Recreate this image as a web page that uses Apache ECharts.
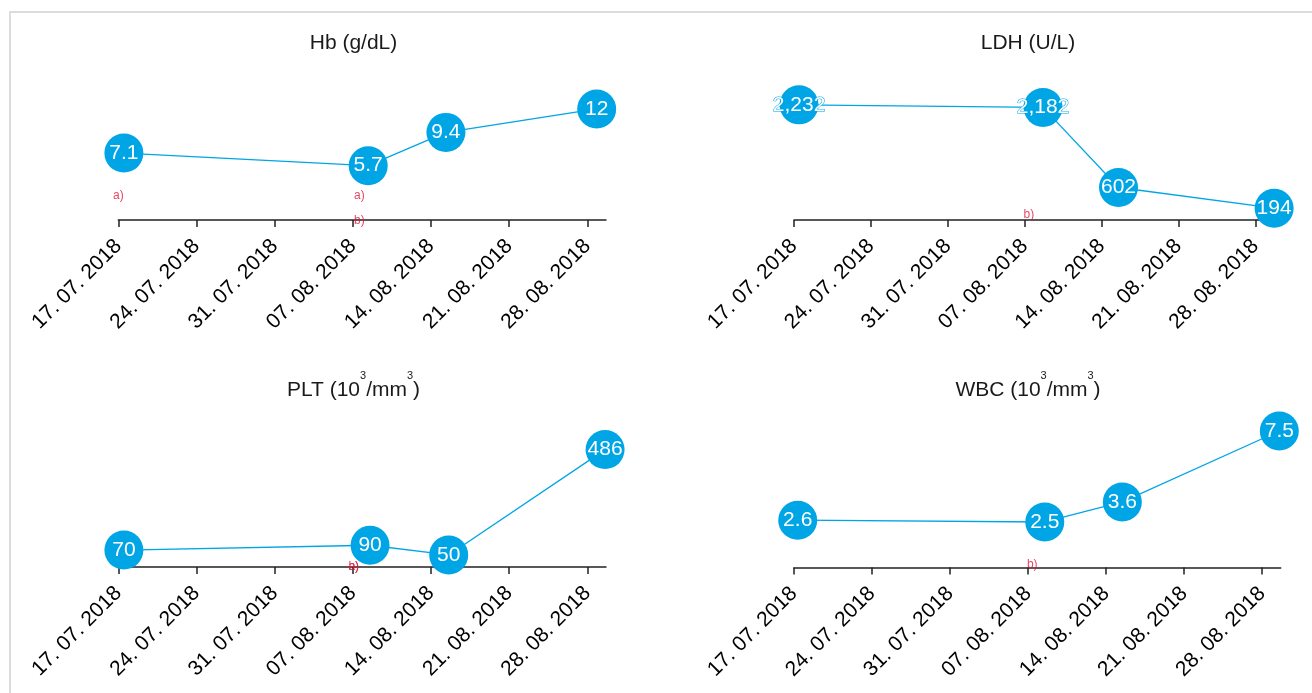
<!DOCTYPE html>
<html><head><meta charset="utf-8">
<script src="https://cdn.jsdelivr.net/npm/echarts@6/dist/echarts.min.js"></script>
<style>html,body{margin:0;padding:0;background:#fff}#c{width:1312px;height:693px}</style>
</head><body><div id="c"></div>
<script>
// ---- data ----
const tickLabels = ['17. 07. 2018','24. 07. 2018','31. 07. 2018','07. 08. 2018','14. 08. 2018','21. 08. 2018','28. 08. 2018'];
const axisStart = '2018-07-17 00:00';

const hbDates  = ['2018-07-17 12:00','2018-08-08 09:00','2018-08-15 08:00','2018-08-28 20:00'];
const hbValues = [7.1, 5.7, 9.4, 12];
const ldhDates  = ['2018-07-17 11:00','2018-08-08 16:00','2018-08-15 13:00','2018-08-29 17:00'];
const ldhValues = [2232, 2182, 602, 194];
const pltDates  = ['2018-07-17 12:00','2018-08-08 13:00','2018-08-15 14:00','2018-08-29 14:00'];
const pltValues = [70, 90, 50, 486];
const wbcDates  = ['2018-07-17 08:00','2018-08-08 12:00','2018-08-15 11:00','2018-08-29 13:00'];
const wbcValues = [2.6, 2.5, 3.6, 7.5];

// annotations: [date, y value, text]
const hbNotes  = [['2018-07-17 00:00', 2.4, 'a)'], ['2018-08-07 14:00', 2.4, 'a)'], ['2018-08-07 14:00', -0.45, 'b)']];
const ldhNotes = [['2018-08-07 09:00', 70, 'b)']];
const pltNotes = [['2018-08-07 02:00', 0, 'a)'], ['2018-08-07 02:00', 0, 'b)']];
const wbcNotes = [['2018-08-07 09:00', 0.18, 'b)']];

// ---- helpers ----
function parseDate(s){
  const [d,t] = s.split(' ');
  const [Y,M,D] = d.split('-').map(Number);
  const [h,m] = t.split(':').map(Number);
  return Date.UTC(Y, M-1, D, h, m);
}
const t0 = parseDate(axisStart);
function toDay(s){ return (parseDate(s) - t0) / 86400000; }
const tickDays = tickLabels.map((_, i) => i * 7);

const BLUE = '#00a5e6';
const FONT = '"Liberation Sans", Arial, sans-serif';

const panels = [
  {title:'Hb (g/dL)', dates:hbDates, values:hbValues, notes:hbNotes,
   grid:{left:118.3, top:70, width:487.7, height:147}, xOffset:3, xMax:'2018-08-29 16:00', yMax:16.33, tx:353.5, ty:33},
  {title:'LDH (U/L)', dates:ldhDates, values:ldhValues, notes:ldhNotes,
   grid:{left:794, top:70, width:487, height:148}, xOffset:2, xMax:'2018-08-30 08:00', yMax:2920, tx:1028, ty:33},
  {title:'PLT (10{s|3}/mm{s|3})', dates:pltDates, values:pltValues, notes:pltNotes,
   grid:{left:118.3, top:417, width:487.7, height:150}, xOffset:0, xMax:'2018-08-29 16:00', yMax:621, tx:353.5, ty:370},
  {title:'WBC (10{s|3}/mm{s|3})', dates:wbcDates, values:wbcValues, notes:wbcNotes,
   grid:{left:794, top:417.5, width:486.7, height:150}, xOffset:0, xMax:'2018-08-29 16:00', yMax:8.24, tx:1028, ty:370}
];

const option = {
  animation:false,
  textStyle:{fontFamily:FONT},
  graphic:[{type:'rect', shape:{x:10, y:12, width:1400, height:800}, style:{fill:'none', stroke:'#dcdcdc', lineWidth:2}, silent:true}],
  title: panels.map(p => ({
    text:p.title, left:p.tx, top:p.ty, textAlign:'center', padding:0,
    textStyle:{fontSize:21, fontWeight:'normal', color:'#1a1a1a', fontFamily:FONT,
      rich:{s:{fontSize:11, color:'#1a1a1a', fontFamily:FONT, padding:[0,0,29,0]}}}
  })),
  grid: panels.map(p => Object.assign({outerBoundsMode:'none', containLabel:false}, p.grid)),
  xAxis: panels.map((p, i) => ({
    type:'value', gridIndex:i, min:0, max:toDay(p.xMax), position:'bottom', offset:p.xOffset,
    splitLine:{show:false},
    axisLine:{show:true, onZero:false, lineStyle:{color:'#222', width:1.5}},
    axisTick:{show:true, length:7, customValues:tickDays, lineStyle:{color:'#222', width:1.5}},
    axisLabel:{show:true, customValues:tickDays, rotate:45, margin:23, fontSize:21, color:'#000', fontFamily:FONT,
      formatter:v => tickLabels[Math.round(v/7)] || ''}
  })),
  yAxis: panels.map((p, i) => ({type:'value', gridIndex:i, min:0, max:p.yMax, show:false, splitLine:{show:false}})),
  series: []
};

panels.forEach((p, i) => {
  option.series.push({
    type:'line', xAxisIndex:i, yAxisIndex:i, clip:false, z:2,
    data:p.dates.map((d, j) => [toDay(d), p.values[j]]),
    symbol:'circle', symbolSize:39,
    itemStyle:{color:BLUE}, lineStyle:{color:BLUE, width:1.3},
    label:{show:true, position:'inside', color:'#fff', fontSize:21, fontWeight:'normal', fontFamily:FONT,
      textBorderColor:BLUE, textBorderWidth:1,
      formatter:q => q.value[1].toLocaleString('en-US')}
  });
  option.series.push({
    type:'scatter', xAxisIndex:i, yAxisIndex:i, clip:false, z:5, silent:true,
    symbolSize:1, itemStyle:{color:'rgba(0,0,0,0)'},
    data:p.notes.map(n => ({value:[toDay(n[0]), n[1]], label:{formatter:n[2]}})),
    label:{show:true, position:'inside', color:'#e0173c', fontSize:12, fontFamily:FONT}
  });
});

const chart = echarts.init(document.getElementById('c'), null, {renderer:'canvas'});
chart.setOption(option);
</script>
</body></html>
